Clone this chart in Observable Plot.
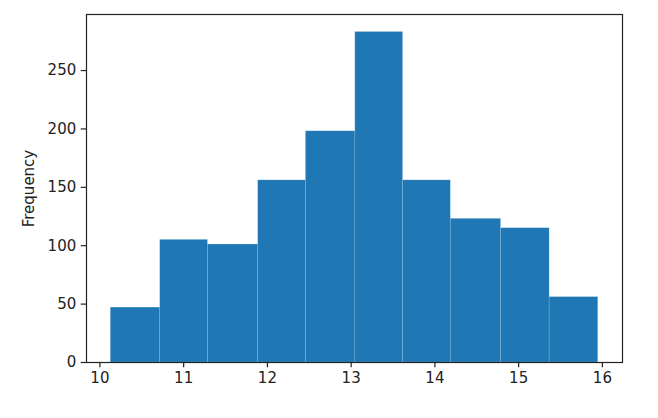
<!DOCTYPE html>
<html>
<head>
<meta charset="utf-8">
<script src="https://cdn.jsdelivr.net/npm/d3@7"></script>
<script src="https://cdn.jsdelivr.net/npm/@observablehq/plot@0.6"></script>
<style>
  body { margin: 0; background: #fff; }
</style>
</head>
<body>
<div id="chart"></div>
<script>
// histogram bin edges and counts
const binEdges = [10.13, 10.72, 11.29, 11.89, 12.46, 13.05, 13.62, 14.19, 14.79, 15.37, 15.95];
const counts = [47, 105, 101, 156, 198, 283, 156, 123, 115, 56];
const xTicks = [10, 11, 12, 13, 14, 15, 16];
const yTicks = [0, 50, 100, 150, 200, 250];

const bins = counts.map((c, i) => ({x1: binEdges[i], x2: binEdges[i + 1], count: c}));

let chart = Plot.plot({
  width: 658,
  height: 418,
  marginLeft: 86,
  marginRight: 36,
  marginTop: 14,
  marginBottom: 56,
  style: {fontFamily: "DejaVu Sans", fontSize: "15px", color: "#222", background: "#fff"},
  x: {domain: [9.84, 16.24]},
  y: {domain: [0, 298]},
  marks: [
    Plot.rectY(bins, {x1: "x1", x2: "x2", y: "count", fill: "#1f77b4", stroke: "#fff", strokeOpacity: 0.15, strokeWidth: 0.8}),
    Plot.frame({stroke: "#222", strokeWidth: 1.2}),
    Plot.axisX({ticks: xTicks, tickFormat: "d", tickSize: 5.25, tickPadding: 5, strokeWidth: 1.2, label: null}),
    Plot.axisY({ticks: yTicks, tickFormat: "d", tickSize: 5.25, tickPadding: 5, strokeWidth: 1.2,
      label: "Frequency", labelAnchor: "center", labelArrow: "none", labelOffset: 63})
  ]
});

d3.select("#chart").append(() => chart);
</script>
</body>
</html>
